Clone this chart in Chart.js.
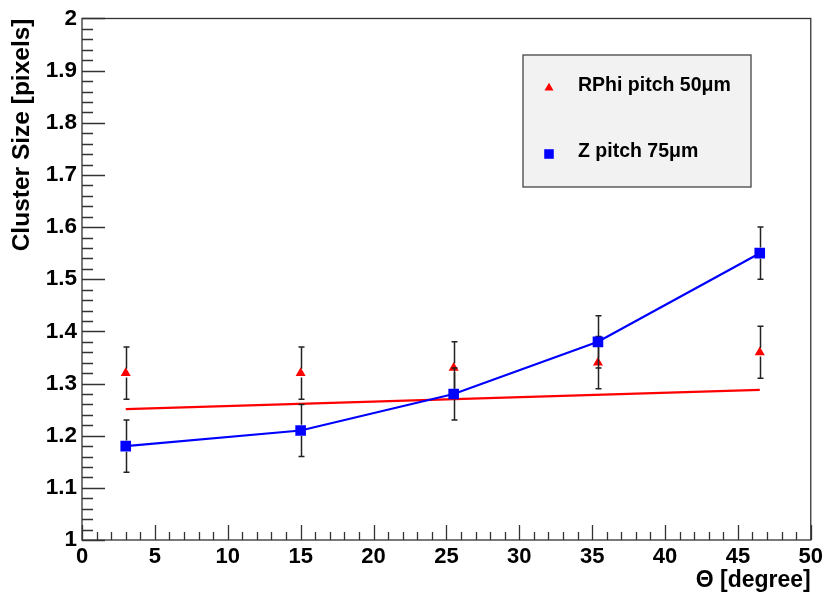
<!doctype html>
<html>
<head>
  <script src="https://cdn.jsdelivr.net/npm/chart.js@4/dist/chart.umd.min.js"></script>
  <style>
    html, body { margin: 0; padding: 0; background: #fff; }
  </style>
</head>
<body>
  <canvas id="canvas" width="827" height="597"></canvas>
  <script>
    // incidence angle of the tracks
    const theta = [3, 15, 25.5, 35.4, 46.5];
    // mean cluster size along RPhi (50um pitch) and Z (75um pitch)
    const rphiSize = [1.32, 1.32, 1.33, 1.34, 1.36];
    const rphiErr = [0.05, 0.05, 0.05, 0.05, 0.05];
    const zSize = [1.18, 1.21, 1.28, 1.38, 1.55];
    const zErr = [0.05, 0.05, 0.05, 0.05, 0.05];
    // straight-line fit of the RPhi points, given by its two end points
    const rphiFitX = [3, 46.5];
    const rphiFitY = [1.251, 1.288];

    const xTicks = { min: 0, max: 50, step: 5, sub: 5 };
    const yTicks = { min: 1, max: 2, step: 0.1, sub: 5 };

    const FONT = '"Liberation Sans", Arial, Helvetica, sans-serif';
    const AXIS = '#333';

    const pts = (xs, ys) => xs.map((v, i) => ({ x: v, y: ys[i] }));

    const rootStyle = {
      id: 'rootStyle',
      beforeDatasetsDraw(chart) {
        const { ctx, chartArea: a, scales: { x, y } } = chart;
        ctx.save();
        ctx.strokeStyle = AXIS;
        ctx.lineWidth = 1.3;
        ctx.strokeRect(a.left, a.top, a.right - a.left, a.bottom - a.top);
        ctx.beginPath();
        // x axis: ticks point up into the frame
        for (let v = xTicks.min; v <= xTicks.max + 1e-9; v += xTicks.step / xTicks.sub) {
          const k = Math.round((v - xTicks.min) / (xTicks.step / xTicks.sub));
          const len = k % xTicks.sub === 0 ? 15 : 8;
          const px = Math.round(x.getPixelForValue(v)) + 0.5;
          ctx.moveTo(px, a.bottom);
          ctx.lineTo(px, a.bottom - len);
        }
        // y axis: ticks point right into the frame
        for (let v = yTicks.min; v <= yTicks.max + 1e-9; v += yTicks.step / yTicks.sub) {
          const k = Math.round((v - yTicks.min) / (yTicks.step / yTicks.sub));
          const len = k % yTicks.sub === 0 ? 23 : 11;
          const py = Math.round(y.getPixelForValue(v)) + 0.5;
          ctx.moveTo(a.left, py);
          ctx.lineTo(a.left + len, py);
        }
        ctx.stroke();
        ctx.restore();
      },
      afterDatasetDraw(chart, args) {
        const ds = chart.data.datasets[args.index];
        if (!ds.errors) return;
        const { ctx, scales: { x, y } } = chart;
        const gap = ds.pointRadius * 0.75;
        ctx.save();
        ctx.strokeStyle = '#222';
        ctx.lineWidth = 1.5;
        ctx.beginPath();
        ds.data.forEach((p, i) => {
          const px = Math.round(x.getPixelForValue(p.x)) + 0.5;
          const yc = y.getPixelForValue(p.y);
          const yHi = y.getPixelForValue(p.y + ds.errors[i]);
          const yLo = y.getPixelForValue(p.y - ds.errors[i]);
          ctx.moveTo(px, yHi); ctx.lineTo(px, yc - gap);
          ctx.moveTo(px, yc + gap); ctx.lineTo(px, yLo);
          ctx.moveTo(px - 3, yHi); ctx.lineTo(px + 3, yHi);
          ctx.moveTo(px - 3, yLo); ctx.lineTo(px + 3, yLo);
        });
        ctx.stroke();
        ctx.restore();
      },
      afterDraw(chart) {
        const { ctx } = chart;
        const box = { left: 523, top: 55, right: 751, bottom: 187 };
        ctx.save();
        ctx.fillStyle = '#f2f2f2';
        ctx.fillRect(box.left, box.top, box.right - box.left, box.bottom - box.top);
        ctx.strokeStyle = '#444';
        ctx.lineWidth = 1.3;
        ctx.strokeRect(box.left, box.top, box.right - box.left, box.bottom - box.top);
        const entries = chart.data.datasets.filter(d => d.legendRow !== undefined)
          .sort((a, b) => a.legendRow - b.legendRow);
        entries.forEach((d, i) => {
          const cy = 88 + i * 66;
          ctx.fillStyle = d.backgroundColor;
          Chart.helpers.drawPoint(ctx, {
            pointStyle: d.pointStyle, radius: d.pointRadius * 0.9, rotation: 0, borderWidth: 0
          }, 549, cy);
          ctx.fillStyle = '#000';
          ctx.font = 'bold 19.5px ' + FONT;
          ctx.textBaseline = 'middle';
          ctx.textAlign = 'left';
          ctx.fillText(d.label, 578, cy - 2);
        });
        ctx.restore();
      }
    };

    new Chart(document.getElementById('canvas'), {
      type: 'scatter',
      data: {
        datasets: [
          {
            label: 'Z pitch 75\u03bcm',
            legendRow: 1,
            data: pts(theta, zSize),
            errors: zErr,
            showLine: true,
            borderColor: '#0000ff',
            borderWidth: 2.2,
            backgroundColor: '#0000ff',
            pointStyle: 'rect',
            pointRadius: 7.5,
            pointBorderWidth: 0
          },
          {
            label: 'RPhi pitch 50\u03bcm',
            legendRow: 0,
            data: pts(theta, rphiSize),
            errors: rphiErr,
            showLine: false,
            backgroundColor: '#ff0000',
            borderColor: '#ff0000',
            pointStyle: 'triangle',
            pointRadius: 5.8,
            pointBorderWidth: 0
          },
          {
            label: 'RPhi fit',
            data: pts(rphiFitX, rphiFitY),
            showLine: true,
            borderColor: '#ff0000',
            borderWidth: 2.2,
            pointRadius: 0
          }
        ]
      },
      options: {
        responsive: false,
        animation: false,
        events: [],
        layout: { padding: { left: 0, top: 14, right: 14, bottom: 0 } },
        plugins: {
          legend: { display: false },
          tooltip: { enabled: false }
        },
        scales: {
          x: {
            type: 'linear',
            min: xTicks.min,
            max: xTicks.max,
            afterFit: s => { s.height = 57; },
            grid: { display: false, drawTicks: false },
            border: { display: false },
            ticks: {
              stepSize: xTicks.step,
              padding: 4,
              color: '#000',
              maxRotation: 0,
              font: { family: FONT, size: 22, weight: 'bold' }
            },
            title: {
              display: true,
              text: '\u0398 [degree]',
              align: 'end',
              color: '#000',
              padding: { top: 0, bottom: 3 },
              font: { family: FONT, size: 23, weight: 'bold' }
            }
          },
          y: {
            type: 'linear',
            min: yTicks.min,
            max: yTicks.max,
            afterFit: s => { s.width = 82; },
            grid: { display: false, drawTicks: false },
            border: { display: false },
            ticks: {
              stepSize: yTicks.step,
              padding: 5,
              color: '#000',
              font: { family: FONT, size: 22.5, weight: 'bold' },
              callback: v => String(+v.toFixed(1))
            },
            title: {
              display: true,
              text: 'Cluster Size [pixels]',
              align: 'end',
              color: '#000',
              padding: { top: 8, bottom: 0 },
              font: { family: FONT, size: 24.5, weight: 'bold' }
            }
          }
        }
      },
      plugins: [rootStyle]
    });
  </script>
</body>
</html>
